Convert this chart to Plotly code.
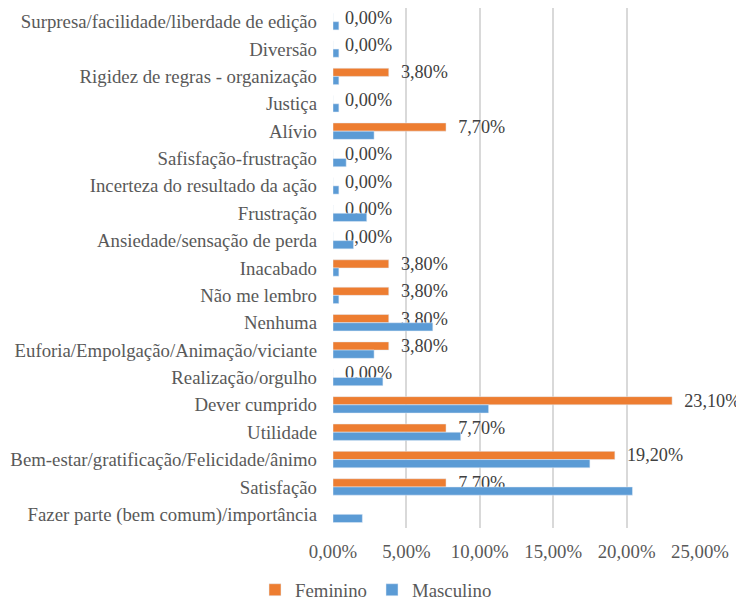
import plotly.graph_objects as go

# categories, top to bottom as in the chart
categorias = [
    "Surpresa/facilidade/liberdade de edição",
    "Diversão",
    "Rigidez de regras - organização",
    "Justiça",
    "Alívio",
    "Safisfação-frustração",
    "Incerteza do resultado da ação",
    "Frustração",
    "Ansiedade/sensação de perda",
    "Inacabado",
    "Não me lembro",
    "Nenhuma",
    "Euforia/Empolgação/Animação/viciante",
    "Realização/orgulho",
    "Dever cumprido",
    "Utilidade",
    "Bem-estar/gratificação/Felicidade/ânimo",
    "Satisfação",
    "Fazer parte (bem comum)/importância",
]

feminino = [0.0, 0.0, 3.8, 0.0, 7.7, 0.0, 0.0, 0.0, 0.0, 3.8,
            3.8, 3.8, 3.8, 0.0, 23.1, 7.7, 19.2, 7.7, None]

masculino = [0.4, 0.4, 0.4, 0.4, 2.8, 0.9, 0.4, 2.3, 1.4, 0.4,
             0.4, 6.8, 2.8, 3.4, 10.6, 8.7, 17.5, 20.4, 2.0]

x_ticks = [0, 5, 10, 15, 20, 25]
x_tick_labels = ["0,00%", "5,00%", "10,00%", "15,00%", "20,00%", "25,00%"]

fem_text = ["" if v is None else "  " + f"{v:.2f}".replace(".", ",") + "%" for v in feminino]

serif = "Liberation Serif, Times New Roman, serif"
fsize = 18.8

fig = go.Figure()

fig.add_trace(go.Bar(
    y=categorias,
    x=feminino,
    orientation="h",
    name="Feminino",
    marker=dict(color="#ED7D31"),
    text=fem_text,
    textposition="outside",
    constraintext="none",
    cliponaxis=False,
    textfont=dict(family=serif, size=18.2, color="#404040"),
))

fig.add_trace(go.Bar(
    y=categorias,
    x=masculino,
    orientation="h",
    name="Masculino",
    marker=dict(color="#5B9BD5"),
))

# page body adds an 8px margin, so the figure is 8px smaller and shifted
fig.update_layout(
    width=736,
    height=593,
    barmode="group",
    bargap=0.4,
    bargroupgap=0,
    plot_bgcolor="white",
    paper_bgcolor="white",
    margin=dict(l=325, r=44, t=0, b=73),
    font=dict(family=serif, size=fsize, color="#595959"),
    showlegend=True,
    legend=dict(
        orientation="h",
        xref="container", yref="container",
        x=0.5, y=0.0185,
        xanchor="center", yanchor="middle",
        itemwidth=30,
        font=dict(family=serif, size=fsize, color="#595959"),
    ),
    xaxis=dict(
        range=[0, 25],
        tickvals=x_ticks,
        ticktext=x_tick_labels,
        showgrid=True,
        gridcolor="#D9D9D9",
        gridwidth=1.5,
        zeroline=False,
        showline=False,
        ticks="",
        ticklabelstandoff=10,
        automargin=False,
    ),
    yaxis=dict(
        autorange="reversed",
        showgrid=False,
        showline=False,
        ticks="",
        ticklabelstandoff=15,
        automargin=False,
    ),
)

fig.write_html("out.html")
